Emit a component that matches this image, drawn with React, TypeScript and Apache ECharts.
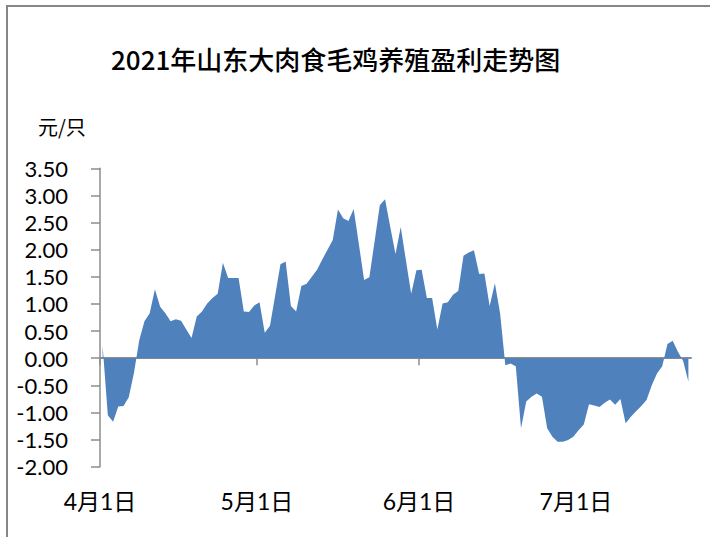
import React, { useEffect, useRef } from "react";
import * as echarts from "echarts";

const titleText = "2021年山东大肉食毛鸡养殖盈利走势图";
const unitText = "元/只";
const startDate = "2021-04-01";
const tickLabels = ["4月1日", "5月1日", "6月1日", "7月1日"];
const tickDates = ["2021-04-01", "2021-05-01", "2021-06-01", "2021-07-01"];
// daily profit values starting 2021-04-01
const profits = [
  0.23, -1.05, -1.17, -0.89, -0.88, -0.72, -0.27, 0.33, 0.68, 0.83,
  1.27, 0.95, 0.83, 0.68, 0.72, 0.69, 0.53, 0.37, 0.77, 0.86,
  1.01, 1.11, 1.19, 1.76, 1.48, 1.48, 1.48, 0.86, 0.85, 0.97,
  1.03, 0.47, 0.6, 1.16, 1.73, 1.78, 0.96, 0.86, 1.33, 1.37,
  1.5, 1.63, 1.82, 2.0, 2.18, 2.74, 2.58, 2.53, 2.75, 2.1,
  1.44, 1.49, 2.15, 2.82, 2.93, 2.42, 1.92, 2.42, 1.8, 1.19,
  1.62, 1.63, 1.11, 1.11, 0.53, 1.01, 1.03, 1.17, 1.24, 1.89,
  1.95, 1.99, 1.55, 1.56, 0.96, 1.38, 0.83, -0.13, -0.1, -0.15,
  -1.29, -0.8, -0.71, -0.65, -0.71, -1.29, -1.45, -1.54, -1.54, -1.51,
  -1.45, -1.33, -1.22, -0.85, -0.87, -0.9, -0.82, -0.76, -0.86, -0.75,
  -1.2, -1.08, -0.98, -0.88, -0.77, -0.5, -0.28, -0.15, 0.26, 0.32,
  0.12, -0.05, -0.43,
];

const DAY = 86400000;
const dayOffset = (d: string) =>
  Math.round((Date.parse(d) - Date.parse(startDate)) / DAY);

export default function App() {
  const ref = useRef<HTMLDivElement>(null);
  useEffect(() => {
    if (!ref.current) return;
    const chart = echarts.init(ref.current, null, { renderer: "svg" });
    const tickPos = tickDates.map(dayOffset);
    const labelMap: Record<number, string> = {};
    tickPos.forEach((p, i) => (labelMap[p] = tickLabels[i]));
    const n = profits.length;
    const data = profits.map((v, i) => [i + 0.5, v]);
    const axisGray = "#8c8c8c";
    chart.setOption({
      animation: false,
      backgroundColor: "#ffffff",
      title: {
        text: titleText,
        left: 106,
        top: 40,
        textStyle: {
          fontFamily: "'Noto Sans CJK SC'",
          fontSize: 26,
          fontWeight: 500,
          color: "#000",
        },
      },
      graphic: [
        {
          type: "rect",
          shape: { x: 7, y: 6, width: 760, height: 600 },
          style: { fill: "none", stroke: "#868686", lineWidth: 2 },
          silent: true,
        },
        {
          type: "text",
          left: 38,
          top: 116,
          style: {
            text: unitText,
            fontFamily: "'Noto Sans CJK SC'",
            fontSize: 20,
            fill: "#000",
          },
        },
      ],
      grid: { left: 100, right: 19, top: 168.3, bottom: 70.3 },
      xAxis: [
        {
          type: "value",
          min: 0,
          max: n,
          axisLine: { onZero: true, lineStyle: { color: axisGray, width: 2 } },
          axisTick: {
            show: true,
            customValues: tickPos,
            length: 7,
            lineStyle: { color: axisGray, width: 1.5 },
          },
          axisLabel: { show: false },
          splitLine: { show: false },
        },
        {
          type: "value",
          position: "bottom",
          min: 0,
          max: n,
          axisLine: { show: false, onZero: false },
          axisTick: { show: false },
          splitLine: { show: false },
          axisLabel: {
            customValues: tickPos,
            margin: 23,
            formatter: (v: number) => labelMap[Math.round(v)] ?? "",
            fontFamily: "Lato, 'Noto Sans CJK SC'",
            fontSize: 23,
            color: "#000",
          },
        },
      ],
      yAxis: {
        type: "value",
        min: -2,
        max: 3.5,
        interval: 0.5,
        axisLine: { show: true, onZero: false, lineStyle: { color: axisGray, width: 1.5 } },
        axisTick: { show: true, length: 9, lineStyle: { color: axisGray, width: 1.5 } },
        splitLine: { show: false },
        axisLabel: {
          margin: 32,
          formatter: (v: number) => v.toFixed(2),
          fontFamily: "Lato",
          fontSize: 22,
          color: "#000",
        },
      },
      series: [
        {
          type: "line",
          xAxisIndex: 0,
          data,
          symbol: "none",
          lineStyle: { width: 0, color: "#4F81BD" },
          areaStyle: { color: "#4F81BD", opacity: 1, origin: 0 },
          z: 1,
        },
      ],
    });
    return () => chart.dispose();
  }, []);
  return (
    <div
      ref={ref}
      style={{ position: "fixed", left: 0, top: 0, width: 710, height: 537 }}
    />
  );
}
